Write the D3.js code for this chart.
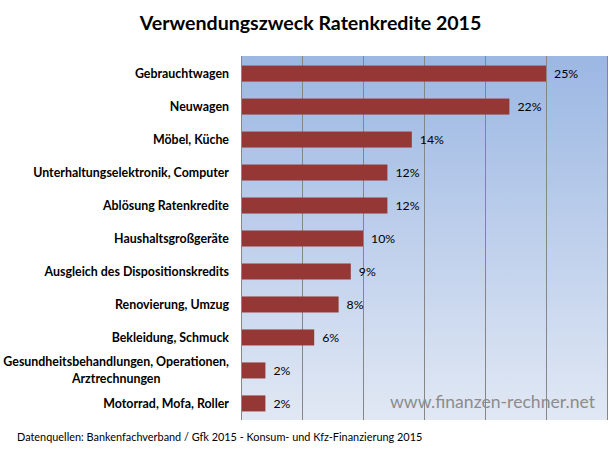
<!DOCTYPE html>
<html><head><meta charset="utf-8">
<script src="https://cdn.jsdelivr.net/npm/d3@7"></script>
<style>body{margin:0;background:#fff}svg{display:block}</style>
</head><body>
<script>
const categories = ["Gebrauchtwagen","Neuwagen","Möbel, Küche","Unterhaltungselektronik, Computer","Ablösung Ratenkredite","Haushaltsgroßgeräte","Ausgleich des Dispositionskredits","Renovierung, Umzug","Bekleidung, Schmuck","Gesundheitsbehandlungen, Operationen,\nArztrechnungen","Motorrad, Mofa, Roller"];
const values = [25,22,14,12,12,10,9,8,6,2,2];
const xTicks = [0,5,10,15,20,25,30];
const title = "Verwendungszweck Ratenkredite 2015";
const source = "Datenquellen: Bankenfachverband / Gfk 2015 - Konsum- und Kfz-Finanzierung 2015";
const watermark = "www.finanzen-rechner.net";

const W=612,H=455;
const m={left:241,right:5,top:57,bottom:35};
const svg=d3.select("body").append("svg").attr("width",W).attr("height",H);
const font="Lato, 'Open Sans', sans-serif";
const defs=svg.append("defs");
const g1=defs.append("linearGradient").attr("id","bg").attr("x1",0).attr("y1",0).attr("x2",0).attr("y2",1);
g1.append("stop").attr("offset","0%").attr("stop-color","#9bb7e3");
g1.append("stop").attr("offset","100%").attr("stop-color","#e1e8f4");

const x=d3.scaleLinear().domain([0,30]).range([m.left,W-m.right]);
const y=d3.scaleBand().domain(categories).range([m.top,H-m.bottom]).paddingInner(0.515).paddingOuter(0.26);

svg.append("rect").attr("x",x(0)).attr("y",m.top-1).attr("width",x(30)-x(0)).attr("height",H-m.bottom-m.top+1).attr("fill","url(#bg)");

svg.append("g").selectAll("line").data(xTicks).join("line")
 .attr("x1",d=>x(d)+0.5).attr("x2",d=>x(d)+0.5).attr("y1",m.top-1).attr("y2",H-m.bottom)
 .attr("stroke","#868686").attr("stroke-width",1);

svg.append("g").selectAll("rect").data(values).join("rect")
 .attr("x",x(0)+1).attr("y",(d,i)=>y(categories[i])).attr("width",d=>x(d)-x(0)-1).attr("height",y.bandwidth())
 .attr("fill","#953735");

svg.append("g").selectAll("text").data(values).join("text")
 .attr("x",d=>x(d)+8).attr("y",(d,i)=>y(categories[i])+y.bandwidth()/2).attr("dy","0.35em")
 .attr("font-family",font).attr("font-size",12.3).attr("fill","#000").text(d=>d+"%");

const lfs=12.4;
const lg=svg.append("g");
categories.forEach((c,i)=>{
  const lines=c.split("\n");
  const cy=y(c)+y.bandwidth()/2;
  if(lines.length===1){
    lg.append("text").attr("x",229).attr("y",cy).attr("dy","0.35em").attr("text-anchor","end")
      .attr("font-family",font).attr("font-weight","bold").attr("font-size",lfs).text(c);
  } else {
    const t0=lg.append("text").attr("x",229).attr("y",cy-8.5).attr("dy","0.35em").attr("text-anchor","end")
      .attr("font-family",font).attr("font-weight","bold").attr("font-size",lfs).text(lines[0]);
    const w=t0.node().getComputedTextLength();
    lg.append("text").attr("x",229-w/2).attr("y",cy+8.5).attr("dy","0.35em").attr("text-anchor","middle")
      .attr("font-family",font).attr("font-weight","bold").attr("font-size",lfs).text(lines[1]);
  }
});

svg.append("text").attr("x",310.5).attr("y",30).attr("text-anchor","middle")
 .attr("font-family",font).attr("font-weight","bold").attr("font-size",19.6).text(title);
svg.append("text").attr("x",595).attr("y",408).attr("text-anchor","end")
 .attr("font-family",font).attr("font-size",17.6).attr("fill","#8c8c8c").text(watermark);
svg.append("text").attr("x",17).attr("y",441)
 .attr("font-family",font).attr("font-size",10.9).attr("fill","#000").text(source);
</script>
</body></html>
